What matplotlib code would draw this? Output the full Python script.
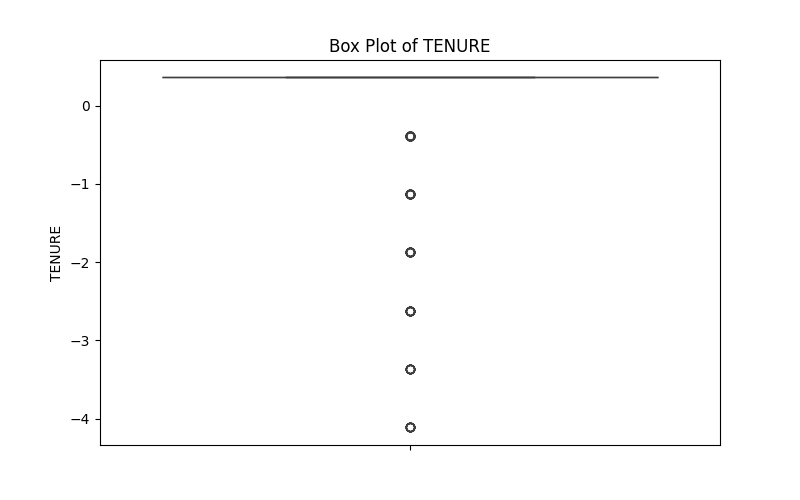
import numpy as np
import pandas as pd
import matplotlib
matplotlib.use("Agg")
import matplotlib.pyplot as plt
import seaborn as sns

# standardized tenure values and how often each occurs
tenure_values = [0.359, -0.386, -1.132, -1.877, -2.623, -3.368, -4.114]
tenure_counts = [3000, 40, 25, 20, 15, 10, 10]

df = pd.DataFrame({"TENURE": np.repeat(tenure_values, tenure_counts)})

fig, ax = plt.subplots(figsize=(8, 5), dpi=100)
sns.boxplot(y=df["TENURE"], ax=ax)
ax.set_title("Box Plot of TENURE")
ax.set_ylabel("TENURE")
plt.savefig("out.png")
